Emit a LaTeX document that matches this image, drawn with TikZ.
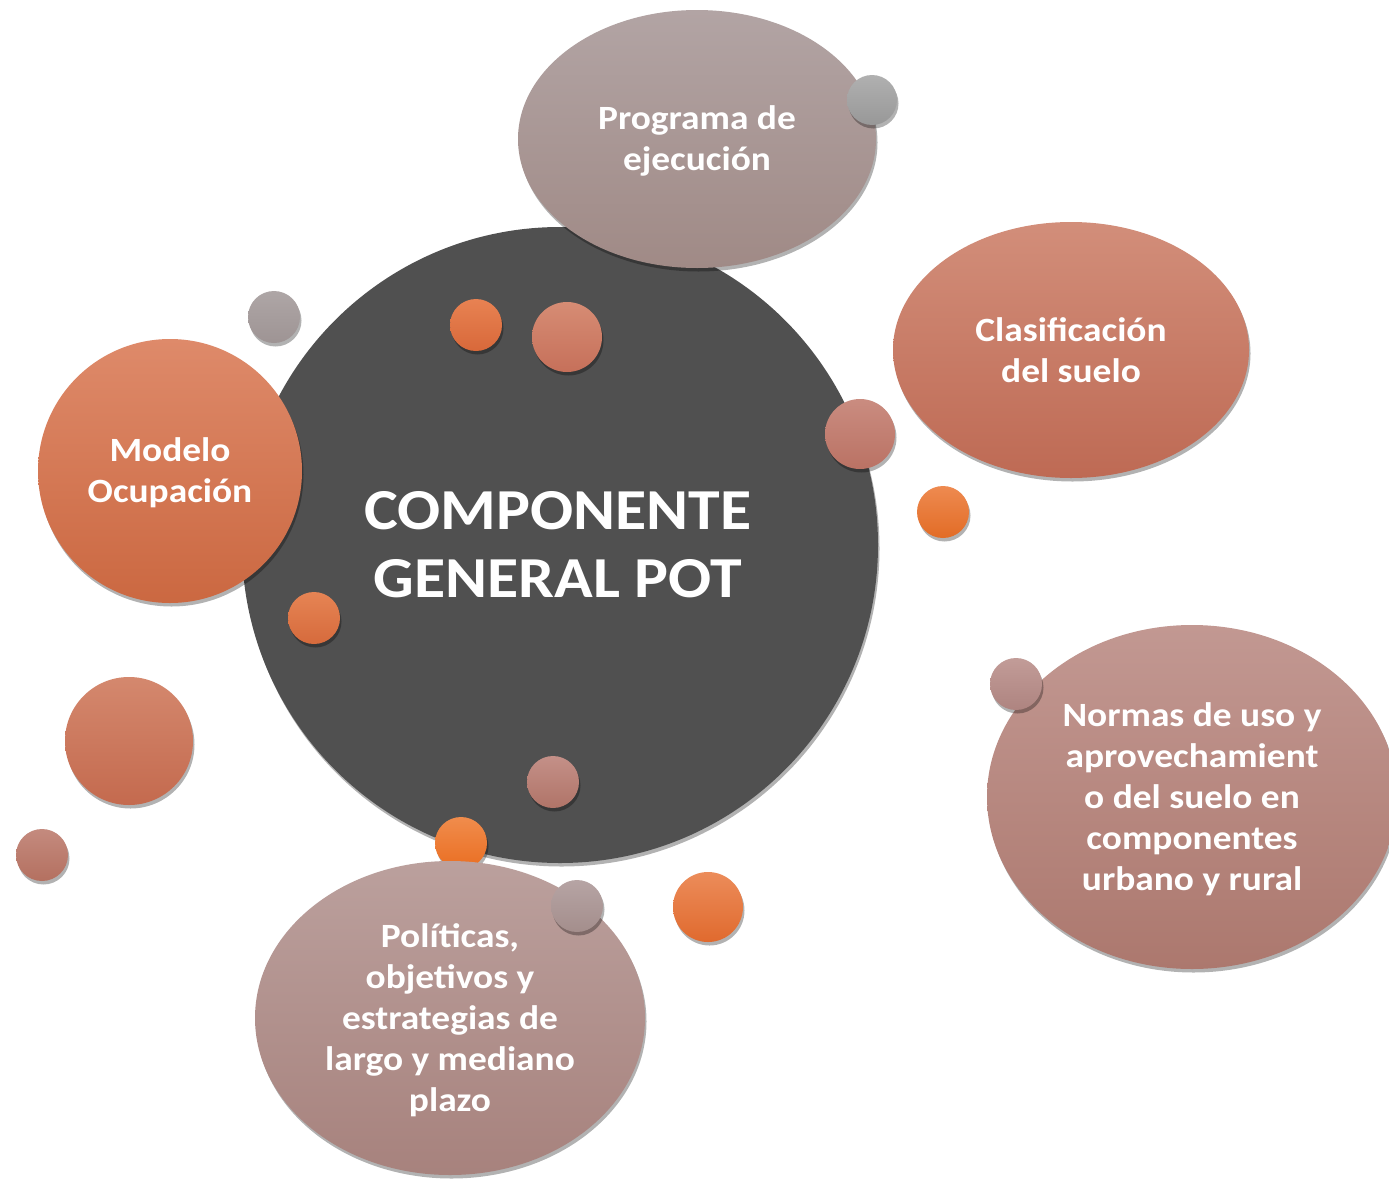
\documentclass[tikz,border=0pt]{standalone}
\usepackage{fontspec}
\setmainfont{Carlito}
\usetikzlibrary{shadows}
\definecolor{darkc}{HTML}{505050}
\tikzset{
  blob/.style={drop shadow={shadow xshift=1.5pt,shadow yshift=-3.5pt,opacity=.3,fill=black}},
  grad/.code 2 args={\definecolor{gtop}{HTML}{#1}\definecolor{gbot}{HTML}{#2}\pgfkeysalso{blob,top color=gtop,bottom color=gbot}},
  lbl/.style={text=white,align=center,xscale=1.1,font=\bfseries\fontsize{34}{41}\selectfont},
  big/.style={text=white,align=center,xscale=1.1,font=\bfseries\fontsize{58}{68}\selectfont}
}
\begin{document}
\begin{tikzpicture}[x=1pt,y=-1pt]
\useasboundingbox[fill=white] (0,0) rectangle (1389,1178);
% central circle
\path[blob,fill=darkc] (560,545) circle[radius=318];
% small circles inside / around the centre
\path[grad={E88252}{D8683A}] (476,325) circle[radius=26];
\path[grad={D68C74}{C6705A}] (567,337) circle[radius=35];
\path[grad={E68454}{D66A3C}] (314,618) circle[radius=26];
\path[grad={C49088}{B07468}] (553,782) circle[radius=26];
\path[grad={F08C4C}{EA6E22}] (461,843) circle[radius=26];
\path[grad={AEA6A6}{9E9494}] (274,317) circle[radius=26];
\path[grad={D4886E}{C46A4E}] (129,741) circle[radius=64];
\path[grad={C48A7E}{B47060}] (42,855) circle[radius=26];
\path[grad={EC8C5A}{E06A2E}] (708,907) circle[radius=35];
\path[grad={EE8A50}{E26C26}] (943,512) circle[radius=26];
% main bubbles
\path[grad={B2A4A4}{A08A86}] (697,139) ellipse[x radius=179,y radius=129];
\path[grad={DE8A6A}{CB6841}] (170,471) circle[radius=132];
\path[grad={D28E7A}{BE6A54}] (1071,350) ellipse[x radius=178,y radius=128];
\path[grad={C29892}{AC786E}] (1192,797) ellipse[x radius=205,y radius=172];
\path[grad={BBA09D}{A7827D}] (450,1018) ellipse[x radius=195,y radius=157];
% small circles on top of bubbles
\path[grad={B0B0B0}{989898}] (872,100) circle[radius=25];
\path[grad={CA8C80}{BA7264}] (860,434) circle[radius=35];
\path[grad={C29C98}{AE8480}] (1016,684) circle[radius=26];
\path[grad={B6A4A4}{A48E8C}] (577,906) circle[radius=26];
% labels
\node[big] (centre) at (558,545) {COMPONENTE\\GENERAL POT};
\node[lbl] (prog) at (697,141) {Programa de\\ejecución};
\node[lbl] (clas) at (1071,350) {Clasificación\\del suelo};
\node[lbl] (model) at (170,473) {Modelo\\Ocupación};
\node[lbl] (normas) at (1192,799) {Normas de uso y\\aprovechamient\\o del suelo en\\componentes\\urbano y rural};
\node[lbl] (polit) at (450,1020) {Políticas,\\objetivos y\\estrategias de\\largo y mediano\\plazo};
\end{tikzpicture}
\end{document}
